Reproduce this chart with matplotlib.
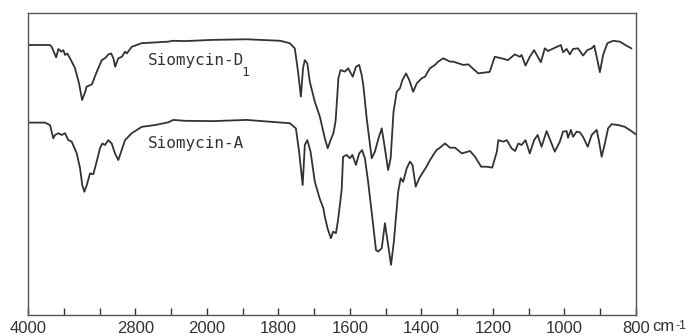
import numpy as np
import matplotlib
matplotlib.use("Agg")
import matplotlib.pyplot as plt

# IR spectra, wavenumber (cm-1) vs. transmittance (%)
d1_wn = [4000, 3755, 3735, 3685, 3660, 3630, 3605, 3585, 3560, 3530,
         3475, 3430, 3395, 3360, 3345, 3285, 3230, 3175, 3140, 3100,
         3070, 3045, 3025, 2990, 2950, 2915, 2895, 2840, 2730, 2615,
         2435, 2380, 2245, 1983, 1888, 1795, 1768, 1754, 1745, 1737,
         1731, 1726, 1719, 1712, 1698, 1684, 1670, 1662, 1654, 1646,
         1640, 1632, 1626, 1614, 1605, 1592, 1583, 1574, 1567, 1562,
         1553, 1539, 1530, 1520, 1511, 1505, 1493, 1486, 1478, 1469,
         1460, 1453, 1443, 1434, 1423, 1413, 1399, 1390, 1385, 1376,
         1362, 1353, 1339, 1320, 1311, 1283, 1269, 1241, 1209, 1195,
         1176, 1158, 1139, 1125, 1120, 1109, 1097, 1085, 1066, 1055,
         1046, 1034, 1010, 1004, 994, 985, 976, 962, 948, 936,
         924, 917, 909, 901, 892, 880, 864, 845, 827, 813]
d1_t = [89.4, 89.4, 88.8, 85.3, 88.1, 87.2, 87.7, 86.1, 86.6, 85.0,
        81.8, 76.8, 71.2, 73.9, 75.6, 76.4, 80.6, 84.4, 85.0, 86.3,
        86.6, 85.0, 82.2, 85.0, 85.5, 87.2, 86.6, 88.8, 90.0, 90.2,
        90.5, 90.8, 90.7, 91.1, 91.3, 90.8, 90.0, 88.3, 80.6, 72.3,
        81.7, 84.4, 83.3, 77.2, 70.6, 65.7, 58.5, 55.2, 57.9, 60.2,
        64.2, 78.5, 81.1, 80.6, 81.7, 78.9, 82.2, 82.8, 79.5, 75.6,
        65.1, 51.9, 54.1, 58.5, 61.8, 57.4, 48.0, 51.9, 67.3, 73.9,
        75.1, 77.8, 80.0, 77.8, 73.9, 76.7, 78.4, 78.9, 80.0, 81.7,
        82.8, 83.9, 85.0, 83.9, 83.9, 82.8, 83.0, 80.0, 80.5, 85.5,
        85.0, 84.4, 86.3, 85.5, 86.1, 82.6, 85.5, 87.7, 83.7, 88.3,
        87.4, 88.1, 89.4, 87.0, 88.1, 86.3, 88.1, 88.3, 85.9, 87.7,
        88.3, 89.2, 85.0, 80.4, 86.1, 90.0, 90.8, 90.5, 89.2, 88.3]

a_wn = [4000, 3810, 3754, 3717, 3698, 3661, 3623, 3586, 3549, 3511,
        3455, 3418, 3393, 3370, 3343, 3306, 3270, 3232, 3195, 3169,
        3139, 3102, 3064, 3027, 2990, 2952, 2915, 2840, 2728, 2579,
        2431, 2375, 2244, 1982, 1889, 1824, 1768, 1751, 1742, 1732,
        1726, 1719, 1710, 1698, 1684, 1674, 1670, 1662, 1653, 1647,
        1639, 1633, 1623, 1619, 1609, 1600, 1593, 1583, 1574, 1566,
        1558, 1549, 1537, 1527, 1521, 1511, 1502, 1493, 1485, 1477,
        1465, 1458, 1451, 1441, 1432, 1425, 1416, 1406, 1395, 1386,
        1376, 1358, 1348, 1334, 1320, 1306, 1287, 1264, 1250, 1233,
        1217, 1202, 1189, 1185, 1171, 1161, 1148, 1138, 1129, 1120,
        1109, 1097, 1085, 1075, 1064, 1050, 1040, 1027, 1013, 1004,
        994, 990, 982, 976, 966, 957, 948, 935, 924, 910,
        904, 896, 887, 878, 868, 850, 831, 813, 800]
a_t = [63.7, 63.7, 62.9, 58.5, 59.6, 60.2, 59.6, 60.2, 57.9, 57.4,
       53.5, 48.6, 43.0, 40.8, 43.0, 46.9, 46.6, 50.8, 55.2, 56.8,
       56.3, 57.9, 56.8, 53.5, 51.3, 54.6, 57.9, 60.2, 62.3, 62.9,
       63.8, 64.6, 64.3, 64.2, 64.6, 64.0, 63.5, 61.8, 54.1, 43.0,
       56.3, 57.9, 54.1, 44.1, 38.4, 35.3, 32.5, 28.5, 25.4, 27.6,
       27.1, 31.5, 41.4, 52.4, 53.0, 51.9, 53.0, 49.7, 53.5, 54.6,
       51.9, 44.1, 32.0, 21.5, 21.0, 22.1, 30.4, 23.2, 16.6, 24.3,
       40.8, 45.3, 44.1, 48.6, 50.8, 49.7, 42.5, 45.3, 47.4, 49.1,
       51.3, 54.6, 55.4, 56.8, 55.4, 55.4, 53.5, 54.3, 52.4, 49.1,
       49.1, 48.8, 54.1, 57.9, 57.4, 57.9, 55.2, 54.3, 56.8, 56.3,
       57.9, 53.5, 57.9, 59.6, 55.7, 60.9, 57.9, 54.1, 57.4, 60.7,
       60.9, 58.7, 61.3, 59.0, 60.7, 60.5, 59.0, 55.7, 59.6, 61.3,
       57.9, 52.4, 56.8, 61.8, 63.2, 62.9, 62.3, 60.9, 59.8]

tick_wn = [4000, 3600, 3200, 2800, 2400, 2000, 1900, 1800, 1700, 1600,
           1500, 1400, 1300, 1200, 1100, 1000, 900, 800]
tick_lbl = ['4000', '', '', '2800', '', '2000', '', '1800', '', '1600',
            '', '1400', '', '1200', '', '1000', '', '800']


# chart paper: 400 cm-1 per division above 2000, 100 cm-1 per division below
# (counted in divisions from the 800 end so the mapping is increasing)
def fwd(w):
    w = np.asarray(w, dtype=float)
    return np.where(w >= 2000, 12 + (w - 2000) / 400.0, (w - 800) / 100.0)


def inv(u):
    u = np.asarray(u, dtype=float)
    return np.where(u >= 12, 2000 + 400.0 * (u - 12), 800 + 100.0 * u)


fig = plt.figure(figsize=(6.91, 3.35), dpi=100)
ax = fig.add_axes([28 / 691, 1 - 315 / 335, 608 / 691, 302 / 335])
ax.set_xscale('function', functions=(fwd, inv))
ax.set_xlim(4000, 800)
ax.set_ylim(0, 100)

ink = '#333333'
ax.plot(d1_wn, d1_t, color=ink, lw=1.3)
ax.plot(a_wn, a_t, color=ink, lw=1.3)

mono = ['DejaVu Sans Mono']
ax.text(2658, 82.8, 'Siomycin-D', family=mono, fontsize=11.5, color=ink)
ax.text(1902, 79.2, '1', family=mono, fontsize=9.5, color=ink)
ax.text(2658, 55.3, 'Siomycin-A', family=mono, fontsize=11.5, color=ink)

ax.set_xticks(tick_wn)
ax.set_xticklabels(tick_lbl, family=['Liberation Sans'], fontsize=12, color=ink)
ax.xaxis.set_minor_locator(matplotlib.ticker.NullLocator())
ax.tick_params(axis='x', direction='in', length=5, width=1, color=ink, pad=4)
ax.set_yticks([])
for s in ax.spines.values():
    s.set_color('#555555')
    s.set_linewidth(1)

ax.annotate('cm', xy=(1, 0), xycoords='axes fraction', xytext=(16, -19),
            textcoords='offset pixels', family=['Liberation Sans'],
            fontsize=12, color=ink, va='bottom')
ax.annotate('-1', xy=(1, 0), xycoords='axes fraction', xytext=(39, -17),
            textcoords='offset pixels', family=['Liberation Sans'],
            fontsize=9, color=ink, va='bottom')

fig.savefig('out.png', dpi=100)
